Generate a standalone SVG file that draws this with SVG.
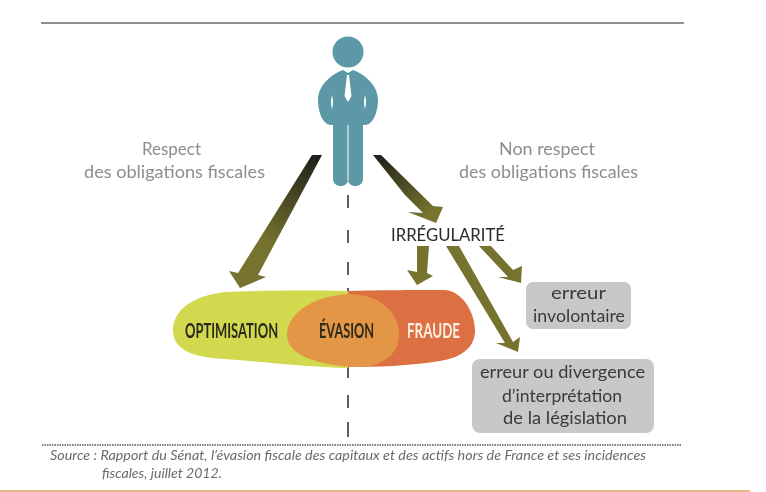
<svg xmlns="http://www.w3.org/2000/svg" width="766" height="492" viewBox="0 0 766 492">
<style>
text{font-family:"Lato","Liberation Sans",sans-serif}
.g{font-size:18px;fill:#8b8d8f}
.b{font-size:17.5px;fill:#3a3a3c;text-anchor:middle}
.c{font-size:21px;font-weight:700;fill:#2b2a1e}
.s{font-size:12.5px;font-style:italic;fill:#6a6a6c}
.box{fill:#c7c8ca}
.a{fill:#74732f}
</style>
<defs>
<filter id="soft" x="-5%" y="-5%" width="110%" height="110%"><feGaussianBlur stdDeviation="0.55"/></filter>
<linearGradient id="ga" gradientUnits="userSpaceOnUse" x1="317" y1="155" x2="262" y2="240"><stop offset="0" stop-color="#1f1f1a"/><stop offset="1" stop-color="#74732f"/></linearGradient>
<linearGradient id="gb" gradientUnits="userSpaceOnUse" x1="376" y1="155" x2="430" y2="212"><stop offset="0" stop-color="#1f1f1a"/><stop offset="1" stop-color="#74732f"/></linearGradient>
</defs>
<rect width="766" height="492" fill="#fff"/>
<g filter="url(#soft)">
<line x1="41" y1="23" x2="684" y2="23" stroke="#8f8f8f" stroke-width="2"/>
<line x1="0" y1="491" x2="750" y2="491" stroke="#e0a060" stroke-width="1.5"/>
<g id="connectors">
<path d="M348 195V208M348 230V243M348 262V275M348 288V293M348 367V378M348 395V408M348 422V437" stroke="#333" stroke-width="1.6" fill="none"/>
<polygon fill="url(#ga)" points="312,155 322,155 258,275 266,277 240,288 229,271 238,273"/>
<polygon fill="url(#gb)" points="373,155 381,155 433,206 443,207 436,223 408,212 423,213 405,195"/>
<polygon class="a" points="417,246 429,246 427,273 433,276 417,285 407,270 417,272"/>
<polygon class="a" points="446,246 459,246 513,342 520,337 518,352 496,343 505,343"/>
<polygon class="a" points="479,246 491,246 513,270 522,266 521,283 498,277 508,277"/>
</g>
<g id="person" fill="#5b98a5">
<circle cx="348" cy="52" r="15.5"/>
<path d="M343 70 L348 73 L353 70 C362 73 378 84 378 100 C378 112 373 125 365 125 L363 125 L363 178 C363 184 359 186 355.5 186 C352 186 349 184 348 181 C347 184 344 186 340.5 186 C337 186 333 184 333 178 L333 125 L331 125 C323 125 318 112 318 100 C318 84 334 73 343 70Z"/>
<path d="M347 75 L349 75 L351.500 96 L348 102 L344.500 96Z" fill="#fff"/>
<path d="M348 125V181" stroke="#fff" stroke-width="1"/>
<path d="M332 95 Q330 102 332 109 Q334 102 332 95ZM365 95 Q363 102 365 109 Q367 102 365 95Z" fill="#fff"/>
</g>
<g id="blob">
<path d="M348 291 C300 290 250 291 225 292 C190 296 173 312 173 330 C173 348 188 357 225 359 C265 362 310 367 348 368Z" fill="#d2d94f"/>
<path d="M348 291 C380 290 420 290 445 290 C462 291 475 312 475 331 C475 348 460 358 440 361 C410 366 375 367 348 367Z" fill="#dc6f42"/>
<path d="M348 294 C382 294 399 314 399 335 C399 354 382 367 358 367 C320 366 287 356 287 335 C287 312 315 296 348 294Z" fill="#e39645"/>
<text class="c" transform="translate(185 338) scale(.7 1)" textLength="133" lengthAdjust="spacingAndGlyphs">OPTIMISATION</text>
<text class="c" transform="translate(319 338) scale(.7 1)" textLength="78.600" lengthAdjust="spacingAndGlyphs">ÉVASION</text>
<text class="c" transform="translate(407 338) scale(.7 1)" textLength="75.700" lengthAdjust="spacingAndGlyphs" style="fill:#fbeee2">FRAUDE</text>
</g>
<g id="respect">
<text class="g" x="142" y="155" textLength="59" lengthAdjust="spacingAndGlyphs">Respect</text>
<text class="g" x="84" y="178" textLength="181" lengthAdjust="spacingAndGlyphs">des obligations fiscales</text>
</g>
<g id="non-respect">
<text class="g" x="499" y="155" textLength="96" lengthAdjust="spacingAndGlyphs">Non respect</text>
<text class="g" x="459" y="178" textLength="179" lengthAdjust="spacingAndGlyphs">des obligations fiscales</text>
</g>
<g id="irregularite">
<text x="391" y="241" textLength="114" lengthAdjust="spacingAndGlyphs" style="font-size:17.500px;fill:#2b2b2d">IRRÉGULARITÉ</text>
</g>
<g id="erreur-involontaire">
<rect class="box" x="526" y="282" width="105" height="47" rx="7"/>
<text class="b" x="578.500" y="299" textLength="55" lengthAdjust="spacingAndGlyphs">erreur</text>
<text class="b" x="579" y="322" textLength="92" lengthAdjust="spacingAndGlyphs">involontaire</text>
</g>
<g id="erreur-divergence">
<rect class="box" x="472" y="359" width="182" height="74" rx="8"/>
<text class="b" x="562.500" y="378" textLength="165" lengthAdjust="spacingAndGlyphs">erreur ou divergence</text>
<text class="b" x="562" y="402" textLength="120" lengthAdjust="spacingAndGlyphs">d’interprétation</text>
<text class="b" x="565" y="424" textLength="124" lengthAdjust="spacingAndGlyphs">de la législation</text>
</g>
<g id="source">
<line x1="42" y1="445" x2="682" y2="445" stroke="#555" stroke-width="1.500" stroke-dasharray="1.500 1"/>
<text class="s" x="50" y="460" textLength="596" lengthAdjust="spacingAndGlyphs">Source : Rapport du Sénat, l’évasion fiscale des capitaux et des actifs hors de France et ses incidences</text>
<text class="s" x="102" y="478" textLength="120" lengthAdjust="spacingAndGlyphs">fiscales, juillet 2012.</text>
</g>
</g>
</svg>
